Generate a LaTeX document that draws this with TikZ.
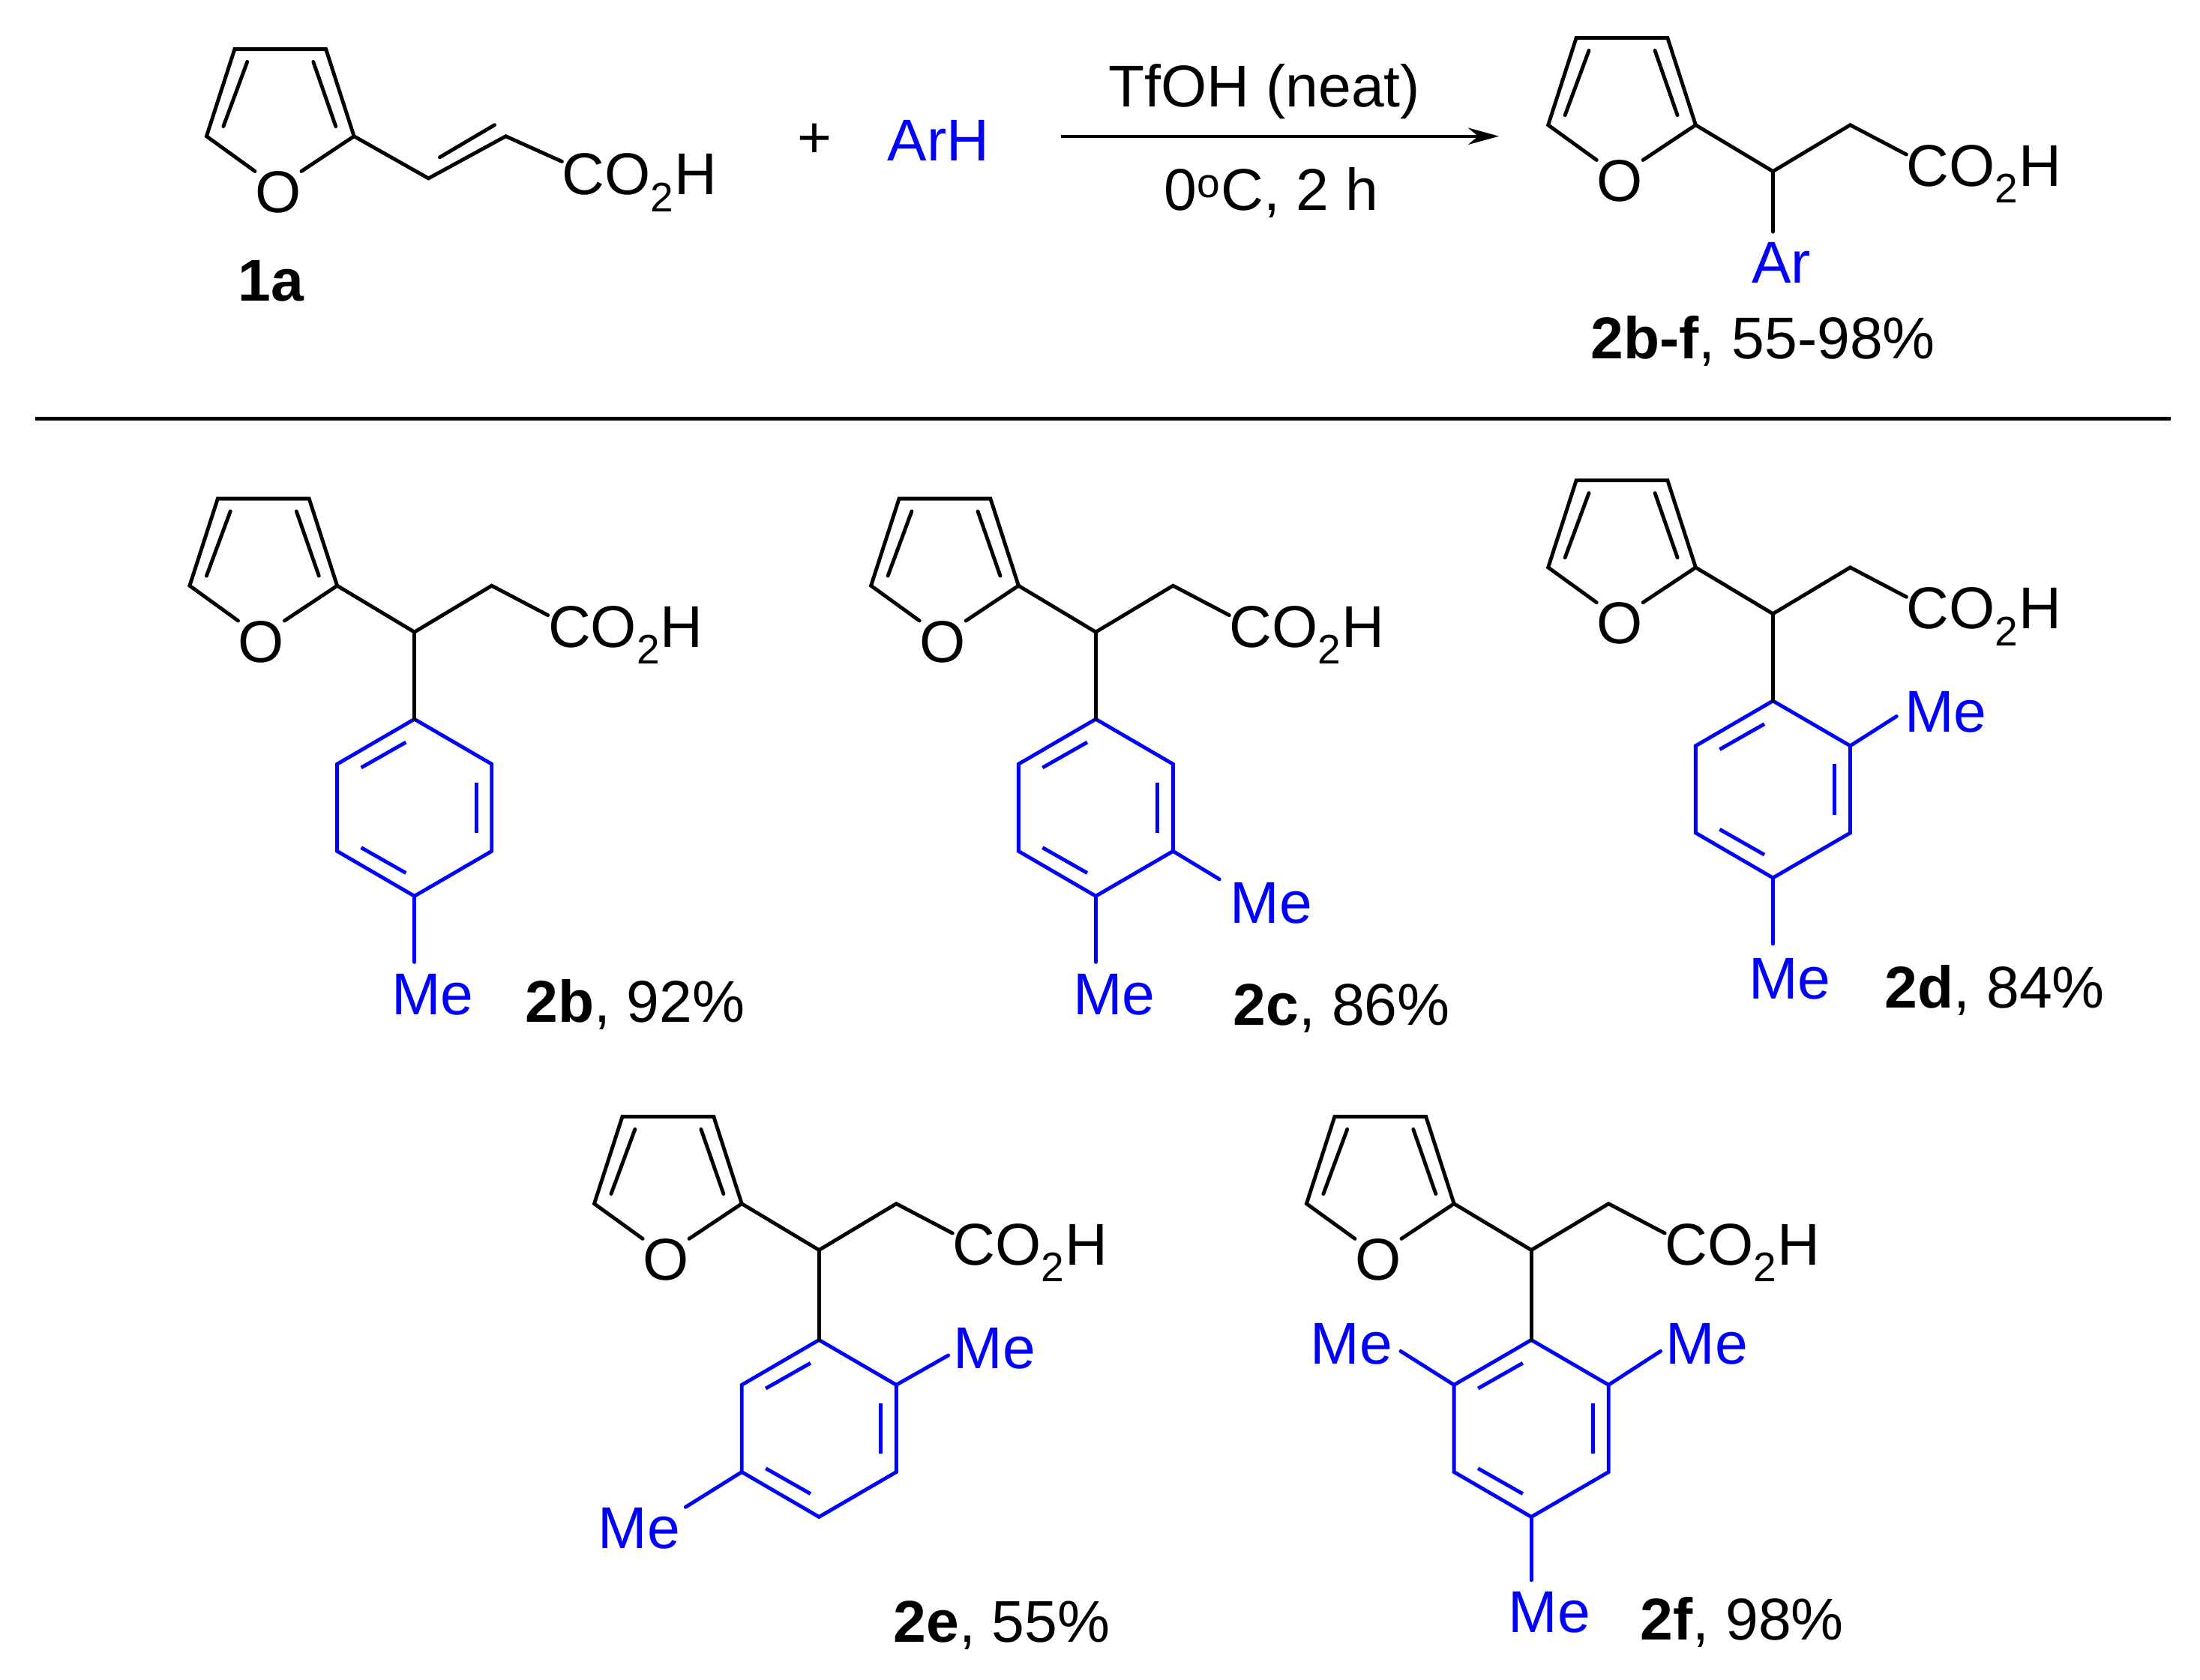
\documentclass[tikz,border=0pt]{standalone}
\usepackage{fontspec}
\setmainfont{Liberation Sans}
\usetikzlibrary{arrows.meta}
\definecolor{ab}{RGB}{0,0,255}
\tikzset{bd/.style={line width=2.6pt,line cap=round},
 inn/.style={line width=2.6pt,shorten <=7pt,shorten >=7pt},
 lab/.style={font=\fontsize{42}{50}\selectfont,inner sep=0pt}}
\newcommand{\acid}{CO\textsubscript{2}H}
\newcommand{\furan}[2]{% P coordinate (x,y), prefix
 \begin{scope}[shift={(#1)}]
 \coordinate (#2c2) at (-55,-33); \coordinate (#2tr) at (-75,-95);
 \coordinate (#2tl) at (-140,-95); \coordinate (#2l) at (-160,-33);
 \node[lab] (#2O) at (-109,7) {O};
 \draw[bd] (#2O.north east) -- (#2c2) -- (#2tr) -- (#2tl) -- (#2l) -- (#2O.north west);
 \draw[bd] (-148,-40) -- (-131,-86);
 \draw[bd] (-84,-86) -- (-68,-40);
 \end{scope}}
\newcommand{\chain}[2]{%
 \begin{scope}[shift={(#1)}]
 \coordinate (#2P) at (0,0); \coordinate (#2ch2) at (55,-33);
 \node[lab,anchor=west] (#2acid) at (95,2) {\acid};
 \draw[bd] (-55,-33) -- (#2P) -- (#2ch2) -- (#2acid.west|-0,-12);
 \end{scope}}
\newcommand{\ring}[2]{% center, prefix
 \begin{scope}[shift={(#1)},ab]
 \coordinate (#2t) at (0,-63); \coordinate (#2ur) at (55,-31);
 \coordinate (#2lr) at (55,31); \coordinate (#2b) at (0,63);
 \coordinate (#2ll) at (-55,31); \coordinate (#2ul) at (-55,-31);
 \draw[bd] (#2t)--(#2ur)--(#2lr)--(#2b)--(#2ll)--(#2ul)--cycle;
 \draw[inn] (-44,-25)--(0,-50);
 \draw[inn] (44,-25)--(44,25);
 \draw[inn] (0,50)--(-44,25);
 \end{scope}}
\begin{document}
\begin{tikzpicture}[x=1pt,y=-1pt]
\useasboundingbox (0,0) rectangle (1566,1196);
% 1a
\furan{307,130}{a}
\coordinate (a1) at (305,127); \coordinate (a2) at (360,97);
\node[lab,anchor=west] (aacid) at (400,130) {\acid};
\draw[bd] (ac2) -- (a1) -- (a2) -- (aacid.west|-0,115);
\draw[bd] (313,112) -- (352,89);
\node[lab,font=\fontsize{42}{50}\selectfont\bfseries] (l1a) at (193,200) {1a};
\node[lab] (plus) at (580,100) {+};
\node[lab,text=ab] (arh) at (668,100) {ArH};
\node[lab] (r1) at (900,65) {TfOH (neat)};
\node[lab] (r2) at (905,137) {0\textsuperscript{o}C, 2 h};
\coordinate (ar0) at (755,97); \coordinate (ar1) at (1067,97);
\draw[line width=2pt,-{Stealth[length=22pt,width=12pt]}] (ar0) -- (ar1);
% product top
\furan{1262,122}{p}\chain{1262,122}{p}
\node[lab,text=ab] (ar) at (1268,187) {Ar};
\draw[bd] (pP) -- (1262,165);
\node[lab] (lp) at (1255,243) {\textbf{2b-f}, 55-98\%};
\coordinate (h0) at (25,298); \coordinate (h1) at (1545,298);
\draw[line width=3pt] (h0) -- (h1);
% 2b
\furan{295,450}{b}\chain{295,450}{b}\ring{295,575}{bR}
\draw[bd] (bP) -- (bRt);
\draw[bd,ab] (bRb) -- (295,685);
\node[lab,text=ab] (bme) at (308,708) {Me};
\node[lab] (lb) at (452,715) {\textbf{2b}, 92\%};
% 2c
\furan{780,450}{c}\chain{780,450}{c}\ring{780,575}{cR}
\draw[bd] (cP) -- (cRt);
\draw[bd,ab] (cRb) -- (780,685);
\node[lab,text=ab] (cme1) at (793,708) {Me};
\draw[bd,ab] (cRlr) -- (868,626);
\node[lab,text=ab] (cme2) at (905,643) {Me};
\node[lab] (lc) at (955,718) {\textbf{2c}, 86\%};
% 2d
\furan{1262,437}{d}\chain{1262,437}{d}\ring{1262,562}{dR}
\draw[bd] (dP) -- (dRt);
\draw[bd,ab] (dRb) -- (1262,672);
\node[lab,text=ab] (dme1) at (1274,697) {Me};
\draw[bd,ab] (dRur) -- (1350,510);
\node[lab,text=ab] (dme2) at (1385,507) {Me};
\node[lab] (ld) at (1420,705) {\textbf{2d}, 84\%};
% 2e
\furan{583,890}{e}\chain{583,890}{e}\ring{583,1017}{eR}
\draw[bd] (eP) -- (eRt);
\draw[bd,ab] (eRur) -- (675,965);
\node[lab,text=ab] (eme1) at (708,960) {Me};
\draw[bd,ab] (eRll) -- (488,1073);
\node[lab,text=ab] (eme2) at (455,1088) {Me};
\node[lab] (le) at (713,1157) {\textbf{2e}, 55\%};
% 2f
\furan{1090,890}{f}\chain{1090,890}{f}\ring{1090,1017}{fR}
\draw[bd] (fP) -- (fRt);
\draw[bd,ab] (fRul) -- (997,962);
\node[lab,text=ab] (fme1) at (962,957) {Me};
\draw[bd,ab] (fRur) -- (1182,962);
\node[lab,text=ab] (fme2) at (1215,957) {Me};
\draw[bd,ab] (fRb) -- (1090,1125);
\node[lab,text=ab] (fme3) at (1103,1148) {Me};
\node[lab] (lf) at (1240,1155) {\textbf{2f}, 98\%};
\end{tikzpicture}
\end{document}
